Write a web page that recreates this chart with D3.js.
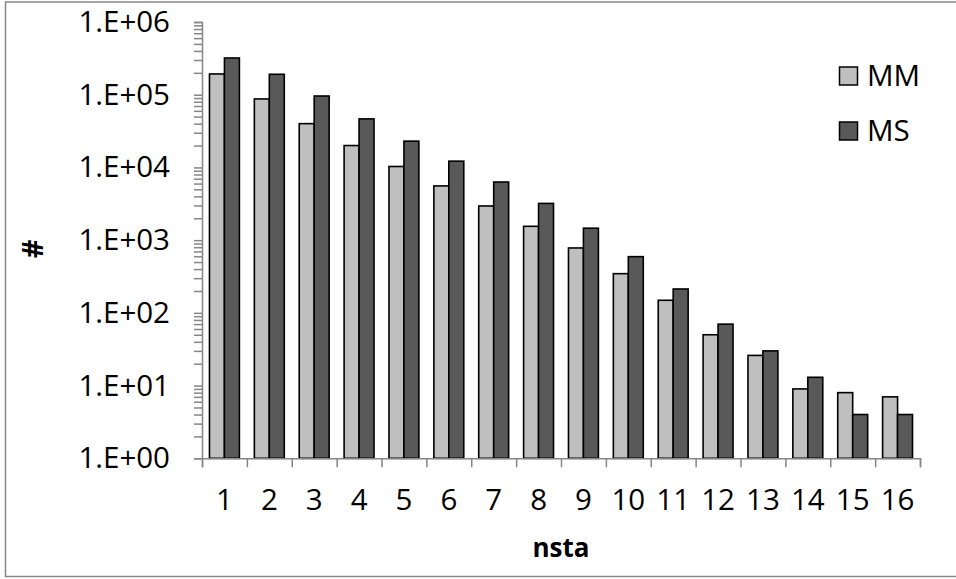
<!DOCTYPE html>
<html>
<head>
<meta charset="utf-8">
<script src="https://cdn.jsdelivr.net/npm/d3@7"></script>
<style>
  html, body { margin: 0; padding: 0; background: #fff; }
  svg { display: block; }
  text { font-family: "Open Sans", sans-serif; fill: #000; }
</style>
</head>
<body>
<svg id="chart" width="956" height="579"></svg>
<script>
const categories = ["1","2","3","4","5","6","7","8","9","10","11","12","13","14","15","16"];
const seriesNames = ["MM", "MS"];
const mmValues = [193000, 87500, 40000, 20000, 10300, 5570, 2950, 1550, 781, 346, 149, 50, 26, 9, 8, 7];
const msValues = [320000, 191000, 96000, 46500, 23000, 12200, 6300, 3200, 1460, 593, 213, 70, 30, 13, 4, 4];
const yMajorTicks = [1, 10, 100, 1000, 10000, 100000, 1000000];
const yTickLabels = ["1.E+00", "1.E+01", "1.E+02", "1.E+03", "1.E+04", "1.E+05", "1.E+06"];
const xTitle = "nsta";
const yTitle = "#";

const colors = { MM: "#bfbfbf", MS: "#595959" };
const axisColor = "#868686";
const fontSize = "29.5px";

const svg = d3.select("#chart");

// outer border
svg.append("rect")
  .attr("x", 5.5).attr("y", 2).attr("width", 960).attr("height", 574.5)
  .attr("fill", "none").attr("stroke", "#878787").attr("stroke-width", 1.5);

const plotLeft = 202, plotRight = 920, plotTop = 22, plotBottom = 458.3;

const y = d3.scaleLog().domain([1, 1e6]).range([plotBottom, plotTop]);
const x = d3.scaleBand().domain(categories).range([plotLeft, plotRight])
  .paddingInner(1/3).paddingOuter(1/6);
const xs = d3.scaleBand().domain(seriesNames).range([0, x.bandwidth()]);
const xb = d3.scaleLinear().domain([0, categories.length]).range([plotLeft, plotRight]);

// minor + major ticks
const allTicks = [];
for (let k = 0; k < 6; k++) for (let m = 1; m <= 9; m++) allTicks.push(m * Math.pow(10, k));
allTicks.push(1e6);

const yAxis = d3.axisLeft(y).tickValues(allTicks).tickSize(8).tickPadding(24)
  .tickFormat(d => { const i = yMajorTicks.indexOf(d); return i >= 0 ? yTickLabels[i] : ""; });
const gy = svg.append("g").attr("transform", `translate(${plotLeft},0)`).call(yAxis);
gy.select(".domain").attr("stroke", axisColor).attr("stroke-width", 1.5);
gy.selectAll(".tick line").attr("stroke", axisColor).attr("stroke-width", 1.5);
gy.selectAll(".tick text").style("font-size", fontSize).attr("fill", "#000");

// bars
const data = categories.map((c, i) => ({ cat: c, vals: [
  { s: "MM", v: mmValues[i] }, { s: "MS", v: msValues[i] } ] }));
const groups = svg.append("g").selectAll("g").data(data).join("g")
  .attr("transform", d => `translate(${x(d.cat)},0)`);
groups.selectAll("rect").data(d => d.vals).join("rect")
  .attr("x", d => xs(d.s))
  .attr("y", d => y(d.v))
  .attr("width", xs.bandwidth())
  .attr("height", d => plotBottom - y(d.v))
  .attr("fill", d => colors[d.s])
  .attr("stroke", "#000").attr("stroke-width", 1.6);

// x axis boundary ticks
const xAxisTicks = d3.axisBottom(xb).tickValues(d3.range(0, categories.length + 1))
  .tickSize(9).tickFormat("");
const gx = svg.append("g").attr("transform", `translate(0,${plotBottom})`).call(xAxisTicks);
gx.select(".domain").attr("stroke", axisColor).attr("stroke-width", 1.5);
gx.selectAll(".tick line").attr("stroke", axisColor).attr("stroke-width", 1.5);

// x labels
const xAxisLabels = d3.axisBottom(x).tickSize(0).tickPadding(30.8);
const gxl = svg.append("g").attr("transform", `translate(0,${plotBottom})`).call(xAxisLabels);
gxl.select(".domain").remove();
gxl.selectAll(".tick text").style("font-size", fontSize).attr("fill", "#000");

// axis titles
svg.append("text")
  .attr("x", (plotLeft + plotRight) / 2).attr("y", 556.5)
  .attr("text-anchor", "middle")
  .style("font-size", "26px").style("font-weight", "bold")
  .text(xTitle);
svg.append("text")
  .attr("transform", "translate(43,249) rotate(-90)")
  .attr("text-anchor", "middle")
  .style("font-size", "29px").style("font-weight", "bold")
  .text(yTitle);

// legend
const legend = svg.append("g").selectAll("g").data(seriesNames).join("g")
  .attr("transform", (d, i) => `translate(839.5,${67 + i * 55})`);
legend.append("rect").attr("width", 18).attr("height", 18)
  .attr("fill", d => colors[d]).attr("stroke", "#000").attr("stroke-width", 1.5);
legend.append("text").attr("x", 27.5).attr("y", 19)
  .style("font-size", fontSize).text(d => d);
</script>
</body>
</html>
